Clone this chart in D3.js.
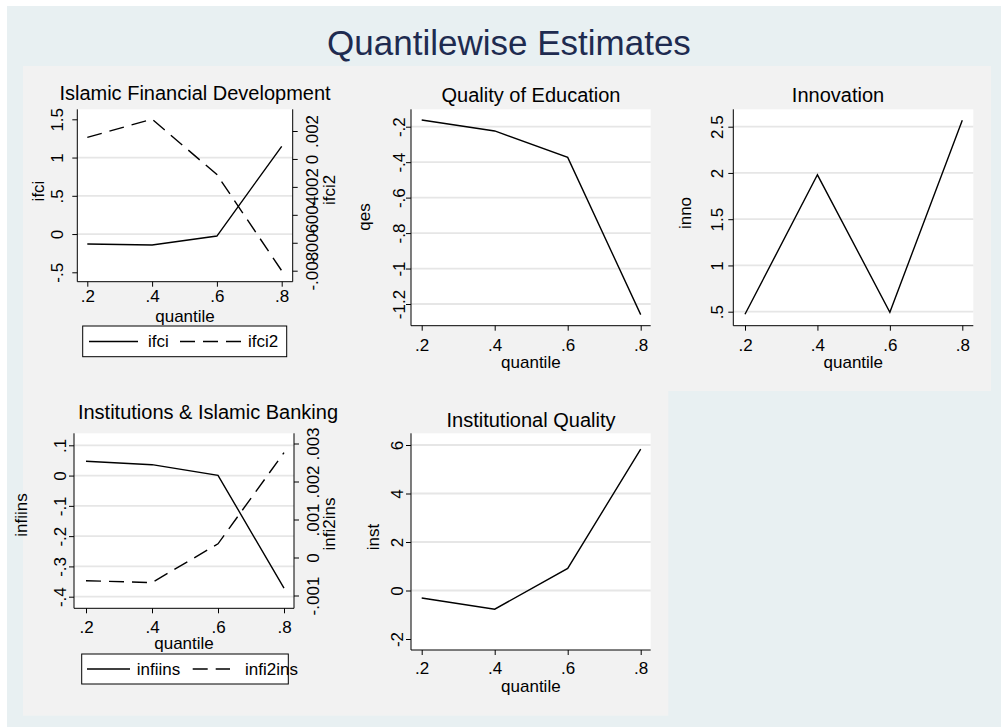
<!DOCTYPE html>
<html>
<head>
<meta charset="utf-8">
<script src="https://cdn.jsdelivr.net/npm/d3@7"></script>
<style>
  body { margin: 0; background: #fff; }
  svg { display: block; font-family: "Liberation Sans", Arial, Helvetica, sans-serif; }
</style>
</head>
<body>
<div id="chart"></div>
<script>
// ====================
// Data
// ====================
const quantiles = [0.2, 0.4, 0.6, 0.8];

const ifci     = [-0.130, -0.143, -0.026, 1.147];
const ifci2    = [0.00154, 0.00285, -0.00112, -0.0080];
const qes      = [-0.162, -0.224, -0.373, -1.260];
const inno     = [0.472, 1.980, 0.494, 2.570];
const infiins  = [0.0475, 0.036, 0.001, -0.372];
const infi2ins = [-0.00061, -0.00066, 0.00036, 0.00276];
const inst     = [-0.31, -0.77, 0.91, 5.83];

// tick values
const xTicks        = [0.2, 0.4, 0.6, 0.8];
const ifciTicks     = [-0.5, 0, 0.5, 1, 1.5];
const ifci2Ticks    = [-0.008, -0.006, -0.004, -0.002, 0, 0.002];
const qesTicks      = [-1.2, -1, -0.8, -0.6, -0.4, -0.2];
const innoTicks     = [0.5, 1, 1.5, 2, 2.5];
const infiinsTicks  = [-0.4, -0.3, -0.2, -0.1, 0, 0.1];
const infi2insTicks = [-0.001, 0, 0.001, 0.002, 0.003];
const instTicks     = [-2, 0, 2, 4, 6];

const mainTitle = "Quantilewise Estimates";
const xTitle = "quantile";

// Stata style labels: ".5" instead of "0.5"
const fmt = v => String(Math.round(v * 1e6) / 1e6).replace(/^(-?)0\./, "$1.");

// ====================
// Panel layout
// ====================
const panels = [
  {
    title: "Islamic Financial Development", titlePos: [195, 93],
    box: { x0: 77.3, x1: 292.7, y0: 109.3, y1: 281.7 }, xRange: [87.3, 281.7],
    xLabelY: 297, xTitleY: 316,
    left: { name: "ifci", values: ifci, ticks: ifciTicks, domain: [-0.5, 1.5], range: [272.3, 119.3],
            grid: [0, 0.5, 1], labelX: 57, titleX: 38, titleY: 191 },
    right: { name: "ifci2", values: ifci2, ticks: ifci2Ticks, domain: [-0.008, 0.002], range: [270.7, 131],
             labelX: 312, titleX: 329, titleY: 190 },
    legend: { box: [82.7, 326, 286.7, 356.7], y: 341.5, solid: [89, 138], t1: 148, dashed: [180, 245], t2: 248 }
  },
  {
    title: "Quality of Education", titlePos: [531, 95],
    box: { x0: 411, x1: 650.7, y0: 109.3, y1: 325.7 }, xRange: [421.7, 640.7],
    xLabelY: 346, xTitleY: 362,
    left: { name: "qes", values: qes, ticks: qesTicks, domain: [-1.2, -0.2], range: [304, 126.7],
            grid: qesTicks, labelX: 399, titleX: 364, titleY: 217 }
  },
  {
    title: "Innovation", titlePos: [838, 95],
    box: { x0: 733.3, x1: 973.3, y0: 109.3, y1: 325.7 }, xRange: [745, 962.3],
    xLabelY: 346, xTitleY: 362,
    left: { name: "inno", values: inno, ticks: innoTicks, domain: [0.5, 2.5], range: [311.7, 126.7],
            grid: innoTicks, labelX: 717, titleX: 685, titleY: 213 }
  },
  {
    title: "Institutions & Islamic Banking", titlePos: [208, 412],
    box: { x0: 74, x1: 294, y0: 433.3, y1: 608.3 }, xRange: [86, 284],
    xLabelY: 628, xTitleY: 643,
    left: { name: "infiins", values: infiins, ticks: infiinsTicks, domain: [-0.4, 0.1], range: [596.7, 445.3],
            grid: infiinsTicks, labelX: 60, titleX: 21, titleY: 515 },
    right: { name: "infi2ins", values: infi2ins, ticks: infi2insTicks, domain: [-0.001, 0.003], range: [595.5, 443.5],
             labelX: 313, titleX: 329, titleY: 524 },
    legend: { box: [81.7, 654, 288.3, 684], y: 669, solid: [87, 130], t1: 136.7, dashed: [192.7, 230], t2: 245 }
  },
  {
    title: "Institutional Quality", titlePos: [531, 420],
    box: { x0: 411, x1: 650.7, y0: 433.3, y1: 650 }, xRange: [421.7, 640.7],
    xLabelY: 668, xTitleY: 686,
    left: { name: "inst", values: inst, ticks: instTicks, domain: [-2, 6], range: [639, 445],
            grid: [0, 2, 4, 6], labelX: 397, titleX: 373, titleY: 537 }
  }
];

const width = 1001, height = 727;
const dash = "15,8";
const fs = 17;

const svg = d3.select("#chart").append("svg")
  .attr("width", width).attr("height", height);

// backgrounds: outer bluish region, gray L-shaped subgraph regions
svg.append("rect").attr("width", width).attr("height", height).attr("fill", "#fff");
svg.append("rect").attr("x", 7).attr("y", 6).attr("width", width - 7).attr("height", height - 6)
  .attr("fill", "#e8f0f2");
svg.append("rect").attr("x", 23).attr("y", 66).attr("width", 968).attr("height", 325)
  .attr("fill", "#f2f2f2");
svg.append("rect").attr("x", 23).attr("y", 390).attr("width", 645.3).attr("height", 325.7)
  .attr("fill", "#f2f2f2");

svg.append("text")
  .attr("x", 509).attr("y", 42)
  .attr("text-anchor", "middle").attr("dominant-baseline", "central")
  .attr("font-size", 35).attr("fill", "#1e2b50")
  .text(mainTitle);

panels.forEach(drawPanel);

function rotLabel(sel, cx, cy, txt) {
  sel.append("text")
    .attr("transform", `translate(${cx},${cy}) rotate(-90)`)
    .attr("text-anchor", "middle").attr("dominant-baseline", "central")
    .attr("font-size", fs).attr("fill", "#000")
    .text(txt);
}

function drawPanel(p) {
  const g = svg.append("g");
  const b = p.box;

  const x = d3.scaleLinear().domain([0.2, 0.8]).range(p.xRange);
  const yL = d3.scaleLinear().domain(p.left.domain).range(p.left.range);
  const yR = p.right ? d3.scaleLinear().domain(p.right.domain).range(p.right.range) : null;

  // plot region
  g.append("rect")
    .attr("x", b.x0).attr("y", b.y0)
    .attr("width", b.x1 - b.x0).attr("height", b.y1 - b.y0)
    .attr("fill", "#fff");

  // gridlines
  g.append("g").selectAll("line")
    .data(p.left.grid)
    .join("line")
    .attr("x1", b.x0).attr("x2", b.x1)
    .attr("y1", d => yL(d)).attr("y2", d => yL(d))
    .attr("stroke", "#e6e6e6").attr("stroke-width", 1.8);

  // series
  const lineL = d3.line().x((d, i) => x(quantiles[i])).y(d => yL(d));
  g.append("path").datum(p.left.values)
    .attr("d", lineL)
    .attr("fill", "none").attr("stroke", "#000").attr("stroke-width", 1.4);

  if (p.right) {
    const lineR = d3.line().x((d, i) => x(quantiles[i])).y(d => yR(d));
    g.append("path").datum(p.right.values)
      .attr("d", lineR)
      .attr("fill", "none").attr("stroke", "#000").attr("stroke-width", 1.4)
      .attr("stroke-dasharray", dash);
  }

  // axes (ticks from d3, labels repositioned Stata style)
  const ax = g.append("g").attr("transform", `translate(${b.x0},0)`)
    .call(d3.axisLeft(yL).tickValues(p.left.ticks).tickFormat(fmt).tickSize(5).tickSizeOuter(0));
  ax.select(".domain").remove();
  ax.selectAll(".tick line").attr("stroke", "#000");
  ax.selectAll(".tick text")
    .attr("x", null).attr("dy", null)
    .attr("transform", `translate(${p.left.labelX - b.x0},0) rotate(-90)`)
    .attr("text-anchor", "middle").attr("dominant-baseline", "central")
    .attr("font-size", fs).attr("font-family", null).attr("fill", "#000");

  if (p.right) {
    const ar = g.append("g").attr("transform", `translate(${b.x1},0)`)
      .call(d3.axisRight(yR).tickValues(p.right.ticks).tickFormat(fmt).tickSize(5).tickSizeOuter(0));
    ar.select(".domain").remove();
    ar.selectAll(".tick line").attr("stroke", "#000");
    ar.selectAll(".tick text")
      .attr("x", null).attr("dy", null)
      .attr("transform", `translate(${p.right.labelX - b.x1},0) rotate(-90)`)
      .attr("text-anchor", "middle").attr("dominant-baseline", "central")
      .attr("font-size", fs).attr("font-family", null).attr("fill", "#000");
  }

  const axb = g.append("g").attr("transform", `translate(0,${b.y1})`)
    .call(d3.axisBottom(x).tickValues(xTicks).tickFormat(fmt).tickSize(5).tickSizeOuter(0));
  axb.select(".domain").remove();
  axb.selectAll(".tick line").attr("stroke", "#000");
  axb.selectAll(".tick text")
    .attr("y", p.xLabelY - b.y1).attr("dy", null)
    .attr("dominant-baseline", "central")
    .attr("font-size", fs).attr("font-family", null).attr("fill", "#000");

  // axis lines
  g.append("line").attr("x1", b.x0).attr("x2", b.x0).attr("y1", b.y0).attr("y2", b.y1)
    .attr("stroke", "#000");
  g.append("line").attr("x1", b.x0).attr("x2", b.x1).attr("y1", b.y1).attr("y2", b.y1)
    .attr("stroke", "#000");
  if (p.right) {
    g.append("line").attr("x1", b.x1).attr("x2", b.x1).attr("y1", b.y0).attr("y2", b.y1)
      .attr("stroke", "#000");
  }

  // titles
  g.append("text")
    .attr("x", p.titlePos[0]).attr("y", p.titlePos[1])
    .attr("text-anchor", "middle").attr("dominant-baseline", "central")
    .attr("font-size", 20).attr("fill", "#000")
    .text(p.title);

  g.append("text")
    .attr("x", (b.x0 + b.x1) / 2).attr("y", p.xTitleY)
    .attr("text-anchor", "middle").attr("dominant-baseline", "central")
    .attr("font-size", fs).attr("fill", "#000")
    .text(xTitle);

  rotLabel(g, p.left.titleX, p.left.titleY, p.left.name);
  if (p.right) rotLabel(g, p.right.titleX, p.right.titleY, p.right.name);

  // legend
  if (p.legend) {
    const L = p.legend;
    const lg = g.append("g");
    lg.append("rect")
      .attr("x", L.box[0]).attr("y", L.box[1])
      .attr("width", L.box[2] - L.box[0]).attr("height", L.box[3] - L.box[1])
      .attr("fill", "#fff").attr("stroke", "#000");
    lg.append("line").attr("x1", L.solid[0]).attr("x2", L.solid[1]).attr("y1", L.y).attr("y2", L.y)
      .attr("stroke", "#000").attr("stroke-width", 1.4);
    lg.append("text").attr("x", L.t1).attr("y", L.y).attr("dominant-baseline", "central")
      .attr("font-size", fs).text(p.left.name);
    lg.append("line").attr("x1", L.dashed[0]).attr("x2", L.dashed[1]).attr("y1", L.y).attr("y2", L.y)
      .attr("stroke", "#000").attr("stroke-width", 1.4).attr("stroke-dasharray", dash);
    lg.append("text").attr("x", L.t2).attr("y", L.y).attr("dominant-baseline", "central")
      .attr("font-size", fs).text(p.right.name);
  }
}
</script>
</body>
</html>
